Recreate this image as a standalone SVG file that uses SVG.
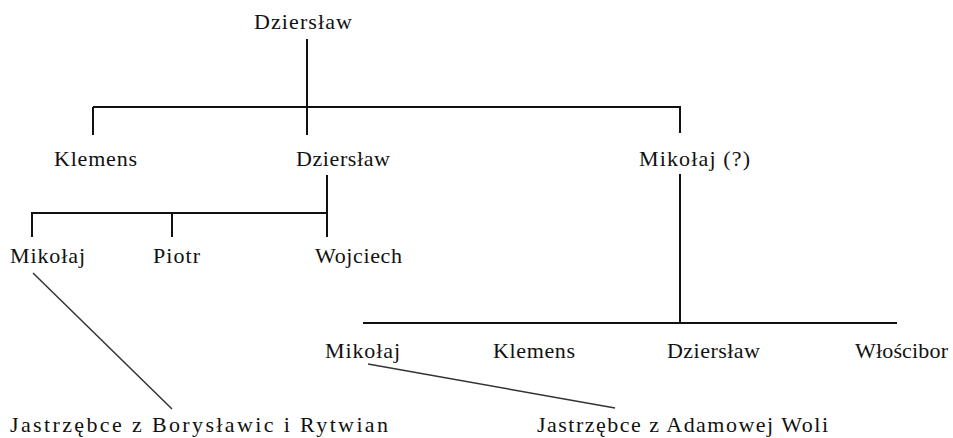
<svg xmlns="http://www.w3.org/2000/svg" width="953" height="438" viewBox="0 0 953 438">
<style>
.t text{font-family:"Liberation Serif","Times New Roman",Times,serif;font-size:22px;fill:#111;}
.c line{stroke:#111;stroke-width:2;}
.c line.d{stroke-width:1.5;stroke:#333;}
</style>
<rect width="953" height="438" fill="#fff"/>
<g class="c" id="connectors">
<line x1="307" y1="39" x2="307" y2="135"/>
<line x1="93" y1="107" x2="681" y2="107"/>
<line x1="93" y1="107" x2="93" y2="135"/>
<line x1="680" y1="107" x2="680" y2="133"/>
<line x1="327" y1="175" x2="327" y2="237"/>
<line x1="31" y1="213" x2="328" y2="213"/>
<line x1="32" y1="213" x2="32" y2="237"/>
<line x1="172" y1="213" x2="172" y2="237"/>
<line x1="680" y1="174" x2="680" y2="323"/>
<line x1="363" y1="323" x2="897" y2="323"/>
<line class="d" x1="33" y1="273" x2="172" y2="409"/>
<line class="d" x1="368" y1="364" x2="615" y2="408"/>
</g>
<g class="t" font-family="Liberation Serif, serif">
<g id="n_dzierslaw_top"><text x="254" y="29" textLength="98" lengthAdjust="spacing">Dziersław</text></g>
<g id="n_klemens"><text x="54" y="166" textLength="83" lengthAdjust="spacing">Klemens</text></g>
<g id="n_dzierslaw_2"><text x="296" y="166" textLength="94" lengthAdjust="spacing">Dziersław</text></g>
<g id="n_mikolaj_q"><text x="639" y="166" textLength="111" lengthAdjust="spacing">Mikołaj (?)</text></g>
<g id="n_mikolaj_1"><text x="10" y="263" textLength="75" lengthAdjust="spacing">Mikołaj</text></g>
<g id="n_piotr"><text x="153" y="263" textLength="47" lengthAdjust="spacing">Piotr</text></g>
<g id="n_wojciech"><text x="315" y="263" textLength="87" lengthAdjust="spacing">Wojciech</text></g>
<g id="n_mikolaj_2"><text x="325" y="358" textLength="75" lengthAdjust="spacing">Mikołaj</text></g>
<g id="n_klemens_2"><text x="493" y="358" textLength="82" lengthAdjust="spacing">Klemens</text></g>
<g id="n_dzierslaw_3"><text x="667" y="358" textLength="93" lengthAdjust="spacing">Dziersław</text></g>
<g id="n_wloscibor"><text x="855" y="358" textLength="93" lengthAdjust="spacing">Włościbor</text></g>
<g id="n_jastrzebce_b"><text x="10" y="432" textLength="378" lengthAdjust="spacing">Jastrzębce z Borysławic i Rytwian</text></g>
<g id="n_jastrzebce_a"><text x="537" y="432" textLength="291" lengthAdjust="spacing">Jastrzębce z Adamowej Woli</text></g>
</g>
</svg>
